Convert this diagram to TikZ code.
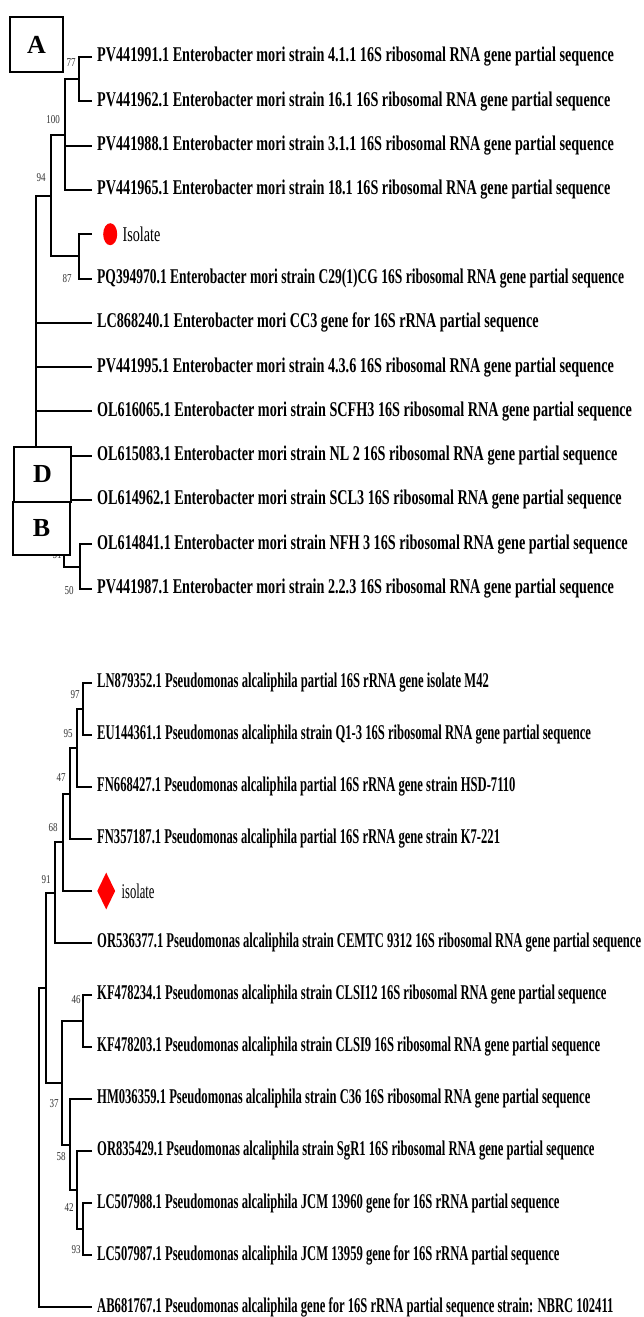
\documentclass[tikz,border=0pt]{standalone}
\usepackage{fontspec}
\setmainfont{Liberation Serif}
\newfontfamily\taxfont{Liberation Serif}[FakeStretch=0.675]
\newfontfamily\taxfontn{Liberation Serif}[FakeStretch=0.645]
\newfontfamily\taxfontb{Liberation Serif}[FakeStretch=0.6]
\newfontfamily\bootfont{Liberation Serif}[FakeStretch=0.75]
\usetikzlibrary{positioning,shapes.geometric}
\begin{document}
\begin{tikzpicture}[x=1pt, y=-1pt,
    branch/.style={line width=2pt},
    taxon/.style={inner sep=0pt, font=\taxfont\bfseries\fontsize{21}{23}\selectfont},
    taxonn/.style={inner sep=0pt, font=\taxfontn\bfseries\fontsize{21}{23}\selectfont},
    taxonb/.style={inner sep=0pt, font=\taxfontb\bfseries\fontsize{21}{23}\selectfont},
    boot/.style={inner sep=0pt, text=black!80, font=\bootfont\fontsize{12}{13}\selectfont},
    panel/.style={draw, fill=white, line width=1.2pt, inner sep=0pt, font=\bfseries\fontsize{26}{28}\selectfont}]
    \useasboundingbox (0,0) rectangle (644,1317);
    % tree A: Enterobacter mori
    \coordinate (t1) at (92,57);
    \coordinate (t2) at (92,101.3);
    \coordinate (t3) at (92,145.6);
    \coordinate (t4) at (92,189.9);
    \coordinate (t5) at (92,234.2);
    \coordinate (t6) at (92,278.5);
    \coordinate (t7) at (92,322.8);
    \coordinate (t8) at (92,367.1);
    \coordinate (t9) at (92,411.4);
    \coordinate (t10) at (92,455.7);
    \coordinate (t11) at (92,500);
    \coordinate (t12) at (92,544.3);
    \coordinate (t13) at (92,588.6);
    \coordinate (n77) at (79,79.2);
    \coordinate (n100) at (65,134.5);
    \coordinate (n87) at (79,256.4);
    \coordinate (n94) at (51,195.5);
    \coordinate (n50) at (80,566.5);
    \coordinate (n51) at (64,533.2);
    \coordinate (rootA) at (36,364);
    \draw[branch] (t1) -| (n77) |- (t2);
    \draw[branch] (n77) -| (n100) |- (t4);
    \draw[branch] (n100 |- t3) -- (t3);
    \draw[branch] (n100) -| (n94) |- (n87);
    \draw[branch] (t5) -| (n87) |- (t6);
    \draw[branch] (n94) -| (rootA) |- (n51);
    \draw[branch] (rootA |- t7) -- (t7);
    \draw[branch] (rootA |- t8) -- (t8);
    \draw[branch] (rootA |- t9) -- (t9);
    \draw[branch] (rootA |- t10) -- (t10);
    \draw[branch] (t11) -| (n51) |- (n50);
    \draw[branch] (t12) -| (n50) |- (t13);
    \node[taxon, right=5pt of t1] (a1) {PV441991.1 Enterobacter mori strain 4.1.1 16S ribosomal RNA gene partial sequence};
    \node[taxon, right=5pt of t2] (a2) {PV441962.1 Enterobacter mori strain 16.1 16S ribosomal RNA gene partial sequence};
    \node[taxon, right=5pt of t3] (a3) {PV441988.1 Enterobacter mori strain 3.1.1 16S ribosomal RNA gene partial sequence};
    \node[taxon, right=5pt of t4] (a4) {PV441965.1 Enterobacter mori strain 18.1 16S ribosomal RNA gene partial sequence};
    \node[ellipse, fill=red, inner sep=0pt, minimum width=14pt, minimum height=22pt, right=11pt of t5] (dotA) {};
    \node[taxon, font=\taxfont\fontsize{21}{23}\selectfont, right=5pt of dotA] (a5) {Isolate};
    \node[taxonn, right=5pt of t6] (a6) {PQ394970.1 Enterobacter mori strain C29(1)CG 16S ribosomal RNA gene partial sequence};
    \node[taxon, right=5pt of t7] (a7) {LC868240.1 Enterobacter mori CC3 gene for 16S rRNA partial sequence};
    \node[taxon, right=5pt of t8] (a8) {PV441995.1 Enterobacter mori strain 4.3.6 16S ribosomal RNA gene partial sequence};
    \node[taxon, right=5pt of t9] (a9) {OL616065.1 Enterobacter mori strain SCFH3 16S ribosomal RNA gene partial sequence};
    \node[taxon, right=5pt of t10] (a10) {OL615083.1 Enterobacter mori strain NL 2 16S ribosomal RNA gene partial sequence};
    \node[taxon, right=5pt of t11] (a11) {OL614962.1 Enterobacter mori strain SCL3 16S ribosomal RNA gene partial sequence};
    \node[taxon, right=5pt of t12] (a12) {OL614841.1 Enterobacter mori strain NFH 3 16S ribosomal RNA gene partial sequence};
    \node[taxon, right=5pt of t13] (a13) {PV441987.1 Enterobacter mori strain 2.2.3 16S ribosomal RNA gene partial sequence};
    \node[boot] (b77) at (71,63) {77};
    \node[boot] (b100) at (53,120) {100};
    \node[boot] (b94) at (41,178) {94};
    \node[boot] (b87) at (67,279) {87};
    \node[boot] (b51) at (57,555) {51};
    \node[boot] (b50) at (69,591) {50};
    \node[panel, minimum width=53pt, minimum height=55pt] (boxA) at (36.5,44.5) {A};
    \node[panel, minimum width=57pt, minimum height=55pt] (boxD) at (42.5,474.5) {D};
    \node[panel, minimum width=57pt, minimum height=53pt] (boxB) at (41.5,528.5) {B};
    % tree B: Pseudomonas alcaliphila
    \coordinate (s1) at (92,683);
    \coordinate (s2) at (92,735);
    \coordinate (s3) at (92,787);
    \coordinate (s4) at (92,839);
    \coordinate (s5) at (92,891);
    \coordinate (s6) at (92,943);
    \coordinate (s7) at (92,995);
    \coordinate (s8) at (92,1047);
    \coordinate (s9) at (92,1099);
    \coordinate (s10) at (92,1151);
    \coordinate (s11) at (92,1203);
    \coordinate (s12) at (92,1255);
    \coordinate (s13) at (92,1307);
    \coordinate (m97) at (83,709);
    \coordinate (m95) at (77,748);
    \coordinate (m47) at (70,793.5);
    \coordinate (m68) at (63,842.2);
    \coordinate (m91) at (55,892.6);
    \coordinate (m46) at (83,1021);
    \coordinate (m93) at (83,1229);
    \coordinate (m42) at (77,1190);
    \coordinate (m58) at (70,1144.5);
    \coordinate (m37) at (62,1082.8);
    \coordinate (mX) at (46,987.7);
    \coordinate (rootB) at (39,1150);
    \draw[branch] (s1) -| (m97) |- (s2);
    \draw[branch] (m97) -| (m95) |- (s3);
    \draw[branch] (m95) -| (m47) |- (s4);
    \draw[branch] (m47) -| (m68) |- (s5);
    \draw[branch] (m68) -| (m91) |- (s6);
    \draw[branch] (m91) -| (mX) |- (m37);
    \draw[branch] (s7) -| (m46) |- (s8);
    \draw[branch] (m46) -| (m37) |- (m58);
    \draw[branch] (s9) -| (m58) |- (m42);
    \draw[branch] (s10) -| (m42) |- (m93);
    \draw[branch] (s11) -| (m93) |- (s12);
    \draw[branch] (mX) -| (rootB) |- (s13);
    \node[taxonb, right=5pt of s1] (p1) {LN879352.1 Pseudomonas alcaliphila partial 16S rRNA gene isolate M42};
    \node[taxonb, right=5pt of s2] (p2) {EU144361.1 Pseudomonas alcaliphila strain Q1-3 16S ribosomal RNA gene partial sequence};
    \node[taxonb, right=5pt of s3] (p3) {FN668427.1 Pseudomonas alcaliphila partial 16S rRNA gene strain HSD-7110};
    \node[taxonb, right=5pt of s4] (p4) {FN357187.1 Pseudomonas alcaliphila partial 16S rRNA gene strain K7-221};
    \node[diamond, fill=red, inner sep=0pt, minimum width=18pt, minimum height=37pt, right=5pt of s5] (dotB) {};
    \node[taxonb, font=\taxfontb\fontsize{21}{23}\selectfont, right=6pt of dotB] (p5) {isolate};
    \node[taxonb, right=5pt of s6] (p6) {OR536377.1 Pseudomonas alcaliphila strain CEMTC 9312 16S ribosomal RNA gene partial sequence};
    \node[taxonb, right=5pt of s7] (p7) {KF478234.1 Pseudomonas alcaliphila strain CLSI12 16S ribosomal RNA gene partial sequence};
    \node[taxonb, right=5pt of s8] (p8) {KF478203.1 Pseudomonas alcaliphila strain CLSI9 16S ribosomal RNA gene partial sequence};
    \node[taxonb, right=5pt of s9] (p9) {HM036359.1 Pseudomonas alcaliphila strain C36 16S ribosomal RNA gene partial sequence};
    \node[taxonb, right=5pt of s10] (p10) {OR835429.1 Pseudomonas alcaliphila strain SgR1 16S ribosomal RNA gene partial sequence};
    \node[taxonb, right=5pt of s11] (p11) {LC507988.1 Pseudomonas alcaliphila JCM 13960 gene for 16S rRNA partial sequence};
    \node[taxonb, right=5pt of s12] (p12) {LC507987.1 Pseudomonas alcaliphila JCM 13959 gene for 16S rRNA partial sequence};
    \node[taxonb, right=5pt of s13] (p13) {AB681767.1 Pseudomonas alcaliphila gene for 16S rRNA partial sequence strain: NBRC 102411};
    \node[boot] (c97) at (75,695) {97};
    \node[boot] (c95) at (68,734) {95};
    \node[boot] (c47) at (61,778) {47};
    \node[boot] (c68) at (53,828) {68};
    \node[boot] (c91) at (46,880) {91};
    \node[boot] (c46) at (76,1000) {46};
    \node[boot] (c37) at (54,1104) {37};
    \node[boot] (c58) at (61,1157) {58};
    \node[boot] (c42) at (69,1208) {42};
    \node[boot] (c93) at (76,1250) {93};
\end{tikzpicture}
\end{document}
